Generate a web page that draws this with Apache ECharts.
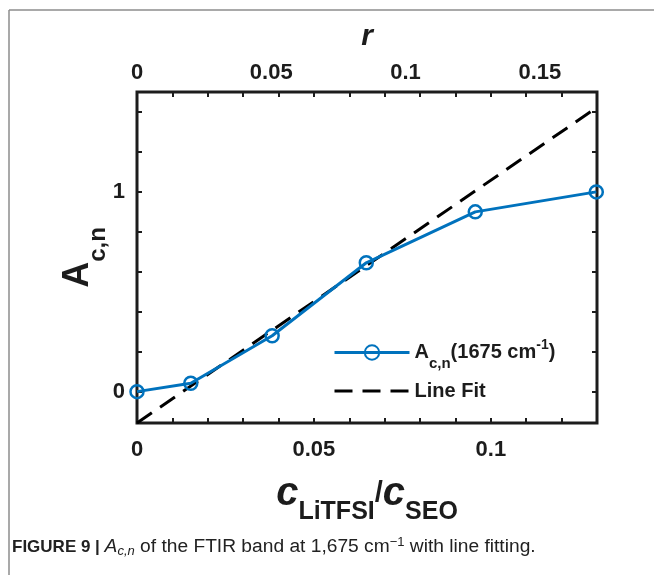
<!DOCTYPE html>
<html>
<head>
<meta charset="utf-8">
<script src="https://cdn.jsdelivr.net/npm/echarts@6/dist/echarts.min.js"></script>
<style>
  html, body { margin: 0; padding: 0; background: #fff; }
  #chart { width: 654px; height: 575px; }
</style>
</head>
<body>
<div id="chart"></div>
<script>
// Measured concentration ratio and normalised band area
const cRatio = [0, 0.0152, 0.0382, 0.0648, 0.0956, 0.1298];
const areaNorm = [0, 0.042, 0.28, 0.645, 0.90, 1.0];

// Linear fit drawn across the plotting window (end points)
const fitX = [0, 0.13];
const fitY = [-0.157, 1.423];

// Axis ranges and tick positions
const cRange = [0, 0.13];
const rRange = [0, 0.1713];
const yRange = [-0.157, 1.5];
const cTicks = [0, 0.01, 0.02, 0.03, 0.04, 0.05, 0.06, 0.07, 0.08, 0.09, 0.1, 0.11, 0.12, 0.13];
const cLabels = [0, 0.05, 0.1];
const rLabels = [0, 0.05, 0.1, 0.15];
const yTicks = [0, 0.2, 0.4, 0.6, 0.8, 1.0, 1.2, 1.4];
const yLabels = [0, 1];

const BLUE = '#0072BD';
const INK = '#1c1c1c';
const FONT = 'Liberation Sans, Arial, sans-serif';

const chart = echarts.init(document.getElementById('chart'), null, { renderer: 'canvas' });

const gridBox = { left: 137, right: 57, top: 92, bottom: 152 };

const labelStyle = { fontFamily: FONT, fontWeight: 'bold', fontSize: 22, color: INK };
const tickStyle = { show: true, inside: true, length: 5, lineStyle: { color: INK, width: 2 } };
const hiddenLine = { show: false, onZero: false };

function fmt(v) { return String(+v.toFixed(3)); }

const option = {
  animation: false,
  backgroundColor: '#fff',
  grid: [
    Object.assign({ show: true, borderColor: INK, borderWidth: 3, backgroundColor: 'transparent' }, gridBox),
    Object.assign({ show: false }, gridBox)
  ],
  xAxis: [
    {
      type: 'value', gridIndex: 0, position: 'bottom',
      min: cRange[0], max: cRange[1],
      axisLine: hiddenLine,
      splitLine: { show: false },
      axisTick: Object.assign({ customValues: cTicks }, tickStyle),
      axisLabel: Object.assign({ customValues: cLabels, margin: 16, formatter: fmt }, labelStyle),
      name: '{c|c}{s|LiTFSI}{sl|/}{c|c}{s|SEO}',
      nameLocation: 'middle',
      nameGap: 39,
      nameTextStyle: {
        fontFamily: FONT, color: INK,
        rich: {
          c: { fontFamily: FONT, fontSize: 40, fontWeight: 'bold', fontStyle: 'italic', color: INK, lineHeight: 63, verticalAlign: 'middle' },
          s: { fontFamily: FONT, fontSize: 25, fontWeight: 'bold', color: INK, verticalAlign: 'bottom' },
          sl: { fontFamily: FONT, fontSize: 29, fontWeight: 'bold', color: INK, verticalAlign: 'middle' }
        }
      }
    },
    {
      // mirrored ticks along the top edge
      type: 'value', gridIndex: 0, position: 'top',
      min: cRange[0], max: cRange[1],
      axisLine: hiddenLine,
      splitLine: { show: false },
      axisTick: Object.assign({ customValues: cTicks }, tickStyle),
      axisLabel: { show: false }
    },
    {
      // secondary scale r on top
      type: 'value', gridIndex: 1, position: 'top',
      min: rRange[0], max: rRange[1],
      axisLine: hiddenLine,
      splitLine: { show: false },
      axisTick: { show: false },
      axisLabel: Object.assign({ customValues: rLabels, margin: 8, formatter: fmt }, labelStyle),
      name: 'r',
      nameLocation: 'middle',
      nameGap: 40,
      nameTextStyle: { fontFamily: FONT, fontSize: 30, fontWeight: 'bold', fontStyle: 'italic', color: INK }
    }
  ],
  yAxis: [
    {
      type: 'value', gridIndex: 0, position: 'left',
      min: yRange[0], max: yRange[1],
      axisLine: hiddenLine,
      splitLine: { show: false },
      axisTick: Object.assign({ customValues: yTicks }, tickStyle),
      axisLabel: Object.assign({ customValues: yLabels, margin: 12, formatter: fmt }, labelStyle),
      name: '{a|A}{s|c,n}',
      nameLocation: 'middle',
      nameRotate: 90,
      nameGap: 27,
      nameMoveOverlap: false,
      nameTextStyle: {
        fontFamily: FONT, color: INK,
        rich: {
          a: { fontFamily: FONT, fontSize: 36, fontWeight: 'bold', color: INK, lineHeight: 64, verticalAlign: 'middle' },
          s: { fontFamily: FONT, fontSize: 24, fontWeight: 'bold', color: INK, verticalAlign: 'bottom' }
        }
      }
    },
    {
      // mirrored ticks along the right edge
      type: 'value', gridIndex: 0, position: 'right',
      min: yRange[0], max: yRange[1],
      axisLine: hiddenLine,
      splitLine: { show: false },
      axisTick: Object.assign({ customValues: yTicks }, tickStyle),
      axisLabel: { show: false }
    },
    {
      type: 'value', gridIndex: 1, show: false,
      min: yRange[0], max: yRange[1]
    }
  ],
  legend: {
    orient: 'vertical',
    left: 333, top: 338,
    itemWidth: 75, itemHeight: 18,
    itemGap: 10,
    padding: 0,
    lineStyle: { width: 3 },
    data: ['Ac,n(1675 cm-1)', 'Line Fit'],
    formatter: function (name) {
      if (name === 'Line Fit') return '{t|Line Fit}';
      return '{a|A}{sb|c,n}{t|(1675 cm}{sp|-1}{t|)}';
    },
    textStyle: {
      fontFamily: FONT, fontWeight: 'bold', fontSize: 20, color: INK,
      rich: {
        a: { fontFamily: FONT, fontWeight: 'bold', fontSize: 20, color: INK, lineHeight: 37, verticalAlign: 'middle' },
        t: { fontFamily: FONT, fontWeight: 'bold', fontSize: 20, color: INK, lineHeight: 24, verticalAlign: 'middle' },
        sb: { fontFamily: FONT, fontWeight: 'bold', fontSize: 15, color: INK, verticalAlign: 'bottom' },
        sp: { fontFamily: FONT, fontWeight: 'bold', fontSize: 14, color: INK, verticalAlign: 'top', padding: [4, 0, 0, 0] }
      }
    }
  },
  series: [
    {
      name: 'Ac,n(1675 cm-1)',
      type: 'line',
      xAxisIndex: 0, yAxisIndex: 0,
      data: cRatio.map((c, i) => [c, areaNorm[i]]),
      symbol: 'circle',
      symbolSize: 13,
      showAllSymbol: true,
      clip: false,
      lineStyle: { color: BLUE, width: 3 },
      itemStyle: { color: 'rgba(255,255,255,0)', borderColor: BLUE, borderWidth: 2.5 },
      z: 3
    },
    {
      name: 'Line Fit',
      type: 'line',
      xAxisIndex: 0, yAxisIndex: 0,
      data: fitX.map((x, i) => [x, fitY[i]]),
      symbol: 'none',
      lineStyle: { color: '#000', width: 3, type: [18, 10] },
      itemStyle: { color: 'rgba(0,0,0,0)', borderWidth: 0 },
      z: 2
    }
  ],
  graphic: [
    { type: 'line', shape: { x1: 9, y1: 10, x2: 654, y2: 10 }, style: { stroke: '#8c8c8c', lineWidth: 1.5 }, silent: true },
    { type: 'line', shape: { x1: 9, y1: 10, x2: 9, y2: 575 }, style: { stroke: '#8c8c8c', lineWidth: 1.5 }, silent: true },
    {
      type: 'text', left: 12, top: 536, silent: true,
      style: {
        text: '{b|FIGURE 9 | }{i|A}{is|c,n}{r| of the FTIR band at 1,675 cm}{sp|\u22121}{r| with line fitting.}',
        fontFamily: FONT, fontSize: 18, fill: '#222',
        rich: {
          b: { fontFamily: FONT, fontSize: 17, fontWeight: 'bold', fill: '#222', lineHeight: 22, verticalAlign: 'middle' },
          r: { fontFamily: FONT, fontSize: 19.2, fill: '#222', lineHeight: 22, verticalAlign: 'middle' },
          i: { fontFamily: FONT, fontSize: 19.2, fontStyle: 'italic', fill: '#222', lineHeight: 22, verticalAlign: 'middle' },
          is: { fontFamily: FONT, fontSize: 13, fontStyle: 'italic', fill: '#222', verticalAlign: 'bottom' },
          sp: { fontFamily: FONT, fontSize: 13, fill: '#222', verticalAlign: 'top' }
        }
      }
    }
  ]
};

chart.setOption(option);
</script>
</body>
</html>
